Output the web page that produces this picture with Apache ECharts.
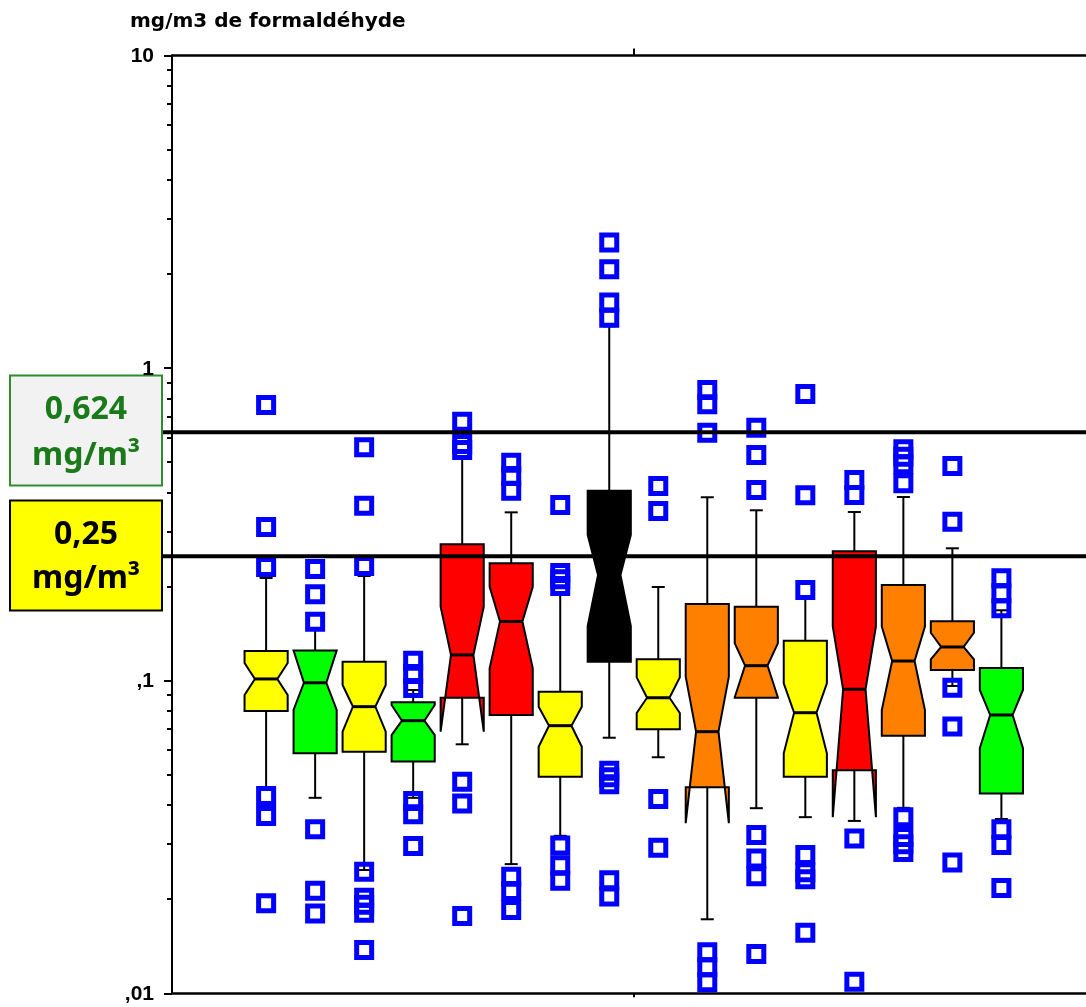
<!DOCTYPE html>
<html><head><meta charset="utf-8">
<script src="https://cdn.jsdelivr.net/npm/echarts@6/dist/echarts.min.js"></script>
<style>html,body{margin:0;padding:0;background:#fff}#c{width:1086px;height:1007px}</style>
</head><body><div id="c"></div>
<script>
// ---- data (mg/m3) ----
const positions   = [2, 3, 4, 5, 6, 7, 8, 9, 10, 11, 12, 13, 14, 15, 16, 17];
const whiskerLow  = [0.0447, 0.0422, 0.0248, 0.0422, 0.0626, 0.0259, 0.0319, 0.0657, 0.0569, 0.01725, 0.0391, 0.0366, 0.0356, 0.0392, 0.0962, 0.0361];
const q1          = [0.0800, 0.0586, 0.0593, 0.0551, 0.0882, 0.0777, 0.0493, 0.1150, 0.0699, 0.0456, 0.0882, 0.0493, 0.0517, 0.0667, 0.1082, 0.0436];
const notchLow    = [0.0900, 0.0806, 0.0687, 0.0670, 0.0687, 0.1096, 0.0615, 0.1496, 0.0788, 0.0350, 0.0885, 0.0586, 0.0366, 0.0806, 0.1171, 0.0608];
const median      = [0.1013, 0.0985, 0.0826, 0.0745, 0.1209, 0.1547, 0.0718, 0.2178, 0.0882, 0.0687, 0.1117, 0.0790, 0.0939, 0.1156, 0.1282, 0.0777];
const notchHigh   = [0.1139, 0.1250, 0.0969, 0.0836, 0.1725, 0.1998, 0.0826, 0.2925, 0.1025, 0.1030, 0.1317, 0.0981, 0.1491, 0.1489, 0.1424, 0.0934];
const q3          = [0.1245, 0.1250, 0.1150, 0.0853, 0.2731, 0.2374, 0.0922, 0.4053, 0.1171, 0.1760, 0.1725, 0.1343, 0.2597, 0.2024, 0.1549, 0.1098];
const whiskerHigh = [0.2131, 0.1453, 0.2162, 0.0934, 0.5196, 0.3456, 0.1922, 1.36, 0.1994, 0.3862, 0.3509, 0.1866, 0.3464, 0.3870, 0.2652, 0.1680];
const outliers = [
  [0.762, 0.310, 0.231, 0.0428, 0.0369, 0.0194],
  [0.2276, 0.189, 0.1545, 0.0335, 0.0213, 0.0180],
  [0.558, 0.3628, 0.2328, 0.0245, 0.0202, 0.0192, 0.0181, 0.01376],
  [0.1159, 0.1050, 0.0948, 0.0412, 0.0374, 0.0296],
  [0.6737, 0.5718, 0.547, 0.0475, 0.0405, 0.01767],
  [0.4982, 0.4516, 0.4053, 0.0236, 0.02125, 0.01847],
  [0.3648, 0.2211, 0.2111, 0.2009, 0.0297, 0.0257, 0.0229],
  [2.52, 2.07, 1.62, 1.45, 0.0515, 0.0491, 0.0466, 0.0230, 0.0204],
  [0.4196, 0.3490, 0.0418, 0.0292],
  [0.851, 0.766, 0.6216, 0.01352, 0.01211, 0.01084],
  [0.6448, 0.5272, 0.4074, 0.0321, 0.0270, 0.0237, 0.01336],
  [0.8264, 0.3920, 0.1951, 0.0277, 0.0244, 0.02316, 0.01563],
  [0.4385, 0.3927, 0.0313, 0.01089],
  [0.5498, 0.5208, 0.4924, 0.4280, 0.0366, 0.0316, 0.0300, 0.0283],
  [0.4862, 0.3225, 0.0950, 0.0713, 0.0262],
  [0.2126, 0.1904, 0.1705, 0.0335, 0.0298, 0.0217]
];
const thresholds = [0.624, 0.25];
const yTickValues = [0.01, 0.1, 1, 10];
const yTickLabels = [',01', ',1', '1', '10'];
const yMinorTicks = [0.02,0.03,0.04,0.05,0.06,0.07,0.08,0.09,0.2,0.3,0.4,0.5,0.6,0.7,0.8,0.9,2,3,4,5,6,7,8,9];

// ---- styles ----
const boxColors = ['#ffff00','#00ff00','#ffff00','#00ff00','#ff0000','#ff0000','#ffff00','#000000',
                   '#ffff00','#ff8000','#ff8000','#ffff00','#ff0000','#ff8000','#ff8000','#00ff00'];
const BOX_HALF = 0.44, NOTCH_RATIO = 0.52, CAP = 6.5;

const boxData = positions.map((p, i) => [p, whiskerLow[i], q1[i], notchLow[i], median[i], notchHigh[i], q3[i], whiskerHigh[i]]);
const outlierData = [];
positions.forEach((p, i) => outliers[i].forEach(v => outlierData.push([p, v])));
const thresholdData = thresholds.map(v => [9.5, v]);
const yLabelData = yTickValues.map(v => [9.5, v]);

const chart = echarts.init(document.getElementById('c'));
const blk = '#000';
const X_MIN = 0.08, X_MAX = 18.726;
const option = {
  animation: false,
  grid: { left: 172, right: 0, top: 55.5, bottom: 13.7 },
  xAxis: [
    { type: 'value', min: X_MIN, max: X_MAX, position: 'bottom',
      axisLine: { show: true, onZero: false, lineStyle: { color: blk, width: 2.5 } },
      axisTick: { show: true, customValues: [9.5], length: 4, lineStyle: { color: blk, width: 2 } },
      axisLabel: { show: false }, splitLine: { show: false } },
    { type: 'value', min: X_MIN, max: X_MAX, position: 'top',
      axisLine: { show: true, onZero: false, lineStyle: { color: blk, width: 2.5 } },
      axisTick: { show: true, customValues: [9.5], length: 7, lineStyle: { color: blk, width: 2 } },
      axisLabel: { show: false }, splitLine: { show: false } }
  ],
  yAxis: [
    { type: 'log', logBase: 10, min: 0.01, max: 10, position: 'left',
      axisLine: { show: true, onZero: false, lineStyle: { color: blk, width: 2 } },
      axisTick: { show: true, length: 8, lineStyle: { color: blk, width: 2 } },
      axisLabel: { show: false },
      splitLine: { show: false }, minorTick: { show: false } },
    { type: 'log', logBase: 10, min: 0.01, max: 10, position: 'left',
      axisLine: { show: false },
      axisTick: { show: true, customValues: yMinorTicks, length: 5, lineStyle: { color: blk, width: 2 } },
      axisLabel: { show: false }, splitLine: { show: false } }
  ],
  graphic: [
    { type: 'text', left: 130, top: 12, style: { text: 'mg/m3 de formaldéhyde', fontFamily: 'DejaVu Sans', fontWeight: 'bold', fontSize: 20, fill: '#000' } },
    { type: 'rect', shape: { x: 10, y: 375.5, width: 152, height: 110 }, style: { fill: '#f2f2f2', stroke: '#2e8b2e', lineWidth: 2 } },
    { type: 'text', x: 86, y: 410, style: { text: '0,624', fontFamily: 'Noto Sans', fontWeight: 'bold', fontSize: 32, fill: '#1a7a1a', align: 'center', verticalAlign: 'middle' } },
    { type: 'text', x: 86, y: 456, style: { text: 'mg/m³', fontFamily: 'Noto Sans', fontWeight: 'bold', fontSize: 32, fill: '#1a7a1a', align: 'center', verticalAlign: 'middle' } },
    { type: 'rect', shape: { x: 10, y: 500.5, width: 152, height: 110 }, style: { fill: '#ffff00', stroke: '#000', lineWidth: 2 } },
    { type: 'text', x: 86, y: 535, style: { text: '0,25', fontFamily: 'Noto Sans', fontWeight: 'bold', fontSize: 32, fill: '#000', align: 'center', verticalAlign: 'middle' } },
    { type: 'text', x: 86, y: 579, style: { text: 'mg/m³', fontFamily: 'Noto Sans', fontWeight: 'bold', fontSize: 32, fill: '#000', align: 'center', verticalAlign: 'middle' } }
  ],
  series: [
    { type: 'custom', xAxisIndex: 0, yAxisIndex: 0, z: 2, silent: true,
      encode: { x: 0, y: [1, 2, 3, 4, 5, 6, 7] },
      data: boxData,
      renderItem: (params, api) => {
        const x = api.value(0);
        const Y = k => api.coord([x, api.value(k)])[1];
        const cx = api.coord([x, api.value(4)])[0];
        const ywl = Y(1), yq1 = Y(2), ynl = Y(3), ymed = Y(4), ynh = Y(5), yq3 = Y(6), ywh = Y(7);
        const hw = api.coord([x + BOX_HALF, api.value(4)])[0] - cx;
        const nw = hw * NOTCH_RATIO;
        const color = boxColors[params.dataIndex];
        const ls = { stroke: blk, lineWidth: 2 };
        return { type: 'group', children: [
          { type: 'line', shape: { x1: cx, y1: yq3, x2: cx, y2: ywh }, style: ls },
          { type: 'line', shape: { x1: cx - CAP, y1: ywh, x2: cx + CAP, y2: ywh }, style: ls },
          { type: 'line', shape: { x1: cx, y1: yq1, x2: cx, y2: ywl }, style: ls },
          { type: 'line', shape: { x1: cx - CAP, y1: ywl, x2: cx + CAP, y2: ywl }, style: ls },
          { type: 'polygon', shape: { points: [
              [cx - hw, yq3], [cx - hw, ynh], [cx - nw, ymed], [cx - hw, ynl], [cx - hw, yq1],
              [cx + hw, yq1], [cx + hw, ynl], [cx + nw, ymed], [cx + hw, ynh], [cx + hw, yq3]] },
            style: { fill: color, stroke: blk, lineWidth: 2, lineJoin: 'miter' } },
          { type: 'line', shape: { x1: cx - nw, y1: ymed, x2: cx + nw, y2: ymed }, style: { stroke: blk, lineWidth: 3 } }
        ] };
      } },
    { type: 'scatter', xAxisIndex: 0, yAxisIndex: 0, z: 3, silent: true,
      data: outlierData, symbol: 'rect', symbolSize: 15,
      itemStyle: { color: 'rgba(0,0,0,0)', borderColor: '#0000ff', borderWidth: 5, opacity: 1 },
      emphasis: { disabled: true } },
    { type: 'custom', xAxisIndex: 0, yAxisIndex: 0, z: 5, silent: true,
      encode: { x: 0, y: 1 },
      data: thresholdData,
      renderItem: (params, api) => {
        const y = api.coord([api.value(0), api.value(1)])[1];
        const cs = params.coordSys;
        return { type: 'line', shape: { x1: cs.x - 9, y1: y, x2: cs.x + cs.width, y2: y }, style: { stroke: blk, lineWidth: 4 } };
      } },
    { type: 'custom', xAxisIndex: 0, yAxisIndex: 0, z: 6, silent: true, clip: false,
      encode: { x: 0, y: 1 },
      data: yLabelData,
      renderItem: (params, api) => {
        const y = api.coord([api.value(0), api.value(1)])[1];
        const cs = params.coordSys;
        return { type: 'text', x: cs.x - 18, y: y + 1,
          style: { text: yTickLabels[params.dataIndex], fontFamily: 'Liberation Sans', fontWeight: 'bold', fontSize: 21, fill: blk, align: 'right', verticalAlign: 'middle' } };
      } }
  ]
};
chart.setOption(option);
</script>
</body></html>
